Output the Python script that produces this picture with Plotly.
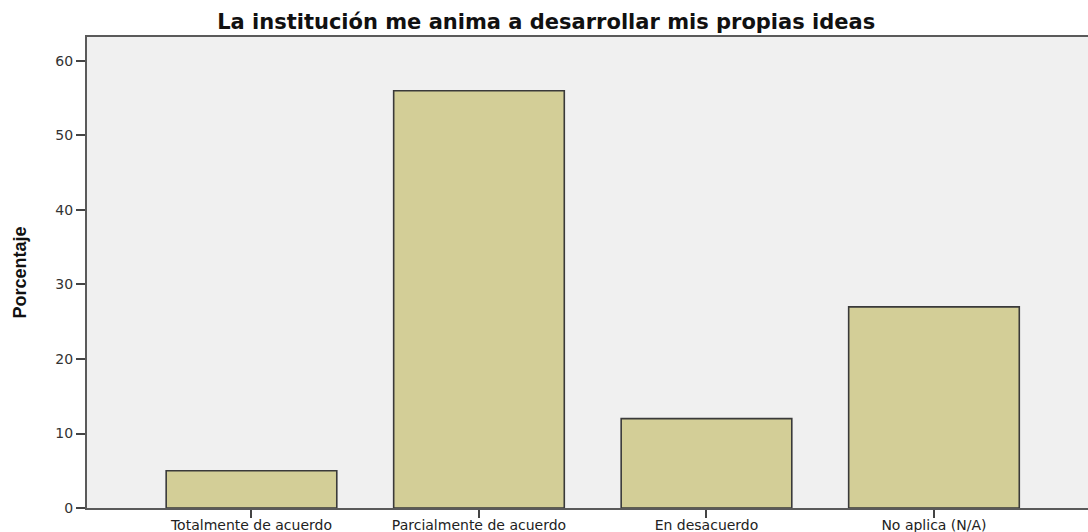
import plotly.graph_objects as go

# Respuestas a la pregunta y porcentaje de cada una
categorias = ["Totalmente de acuerdo", "Parcialmente de acuerdo", "En desacuerdo", "No aplica (N/A)"]
porcentajes = [5, 56, 12, 27]
ticks_y = [0, 10, 20, 30, 40, 50, 60]

titulo = "La institución me anima a desarrollar mis propias ideas"
etiqueta_y = "Porcentaje"

fig = go.Figure(
    go.Bar(
        x=categorias,
        y=porcentajes,
        marker=dict(color="#D3CE97", line=dict(color="#3a3a3a", width=1.6)),
        hoverinfo="x+y",
    )
)

fig.update_layout(
    width=1088,
    height=532,
    margin=dict(l=87, r=0, t=37, b=24),
    paper_bgcolor="white",
    plot_bgcolor="#F0F0F0",
    bargap=0.25,
    showlegend=False,
    font=dict(family="DejaVu Sans, Liberation Sans, Arial", size=12, color="#222"),
    title=dict(
        text="<b>" + titulo + "</b>",
        font=dict(family="DejaVu Sans, Liberation Sans, Arial", size=21, color="#111"),
        x=0.502,
        xref="container",
        xanchor="center",
        y=1 - 22 / 532,
        yref="container",
        yanchor="middle",
    ),
)

fig.update_xaxes(
    type="category",
    range=[-0.723, 3.677],
    showline=True,
    linecolor="#5a5a5a",
    linewidth=2,
    mirror=True,
    ticks="outside",
    ticklen=8,
    tickwidth=2,
    tickcolor="#444",
    tickfont=dict(size=14, color="#222"),
    ticklabelstandoff=-5,
    showgrid=False,
    zeroline=False,
    automargin=False,
)

fig.update_yaxes(
    range=[0, 63.22],
    tickvals=ticks_y,
    showline=True,
    linecolor="#5a5a5a",
    linewidth=2,
    ticks="outside",
    ticklen=9,
    tickwidth=1.5,
    tickcolor="#444",
    tickfont=dict(size=14, color="#333"),
    showgrid=False,
    zeroline=False,
    automargin=False,
    title=dict(
        text="<b>" + etiqueta_y + "</b>",
        font=dict(family="Liberation Sans Narrow, Liberation Sans, Arial", size=18, color="#111"),
        standoff=24,
    ),
)

fig.write_html("out.html")
